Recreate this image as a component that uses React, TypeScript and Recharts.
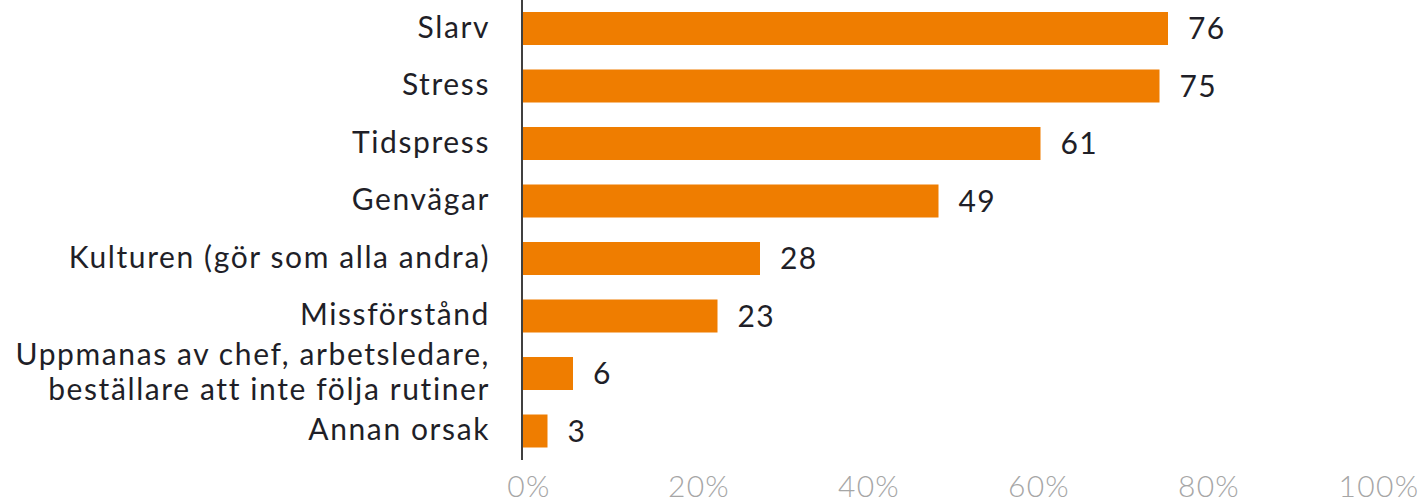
import React from "react";
import { BarChart, Bar, XAxis, YAxis, LabelList } from "recharts";

const categories = [
  "Slarv",
  "Stress",
  "Tidspress",
  "Genvägar",
  "Kulturen (gör som alla andra)",
  "Missförstånd",
  "Uppmanas av chef, arbetsledare,\nbeställare att inte följa rutiner",
  "Annan orsak",
];
const values = [76, 75, 61, 49, 28, 23, 6, 3];
const xTicks = [0, 20, 40, 60, 80, 100];

const data = categories.map((name, i) => ({ name, value: values[i] }));

const FONT = "Lato, 'Noto Sans', sans-serif";
const FS = 30;
const LS = 1.6;

const CategoryTick = (props: any) => {
  const { x, y, payload } = props;
  const lines: string[] = String(payload.value).split("\n");
  const lh = 35;
  return (
    <text
      x={x}
      y={y}
      textAnchor="end"
      fill="#1f1f28"
      fontSize={FS}
      fontFamily={FONT}
      letterSpacing={LS}
    >
      {lines.map((l, i) => (
        <tspan key={i} x={x} dy={i === 0 ? 0.36 * FS - ((lines.length - 1) * lh) / 2 - 2 : lh}>
          {l}
        </tspan>
      ))}
    </text>
  );
};

export default function App() {
  return (
    <div style={{ position: "absolute", left: 0, top: 0 }}>
      <BarChart
        width={1421}
        height={503}
        data={data}
        layout="vertical"
        margin={{ top: 0, right: 49, bottom: 0, left: 0 }}
      >
        <XAxis
          type="number"
          domain={[0, 100]}
          ticks={xTicks}
          tickFormatter={(v: number) => `${v}%`}
          axisLine={false}
          tickLine={false}
          tickSize={0}
          tickMargin={16}
          height={43}
          tick={{
            fill: "#a6a6a6",
            fontSize: FS,
            fontFamily: FONT,
            fontWeight: 300,
            dx: 7,
            letterSpacing: 1.3,
          }}
        />
        <YAxis
          type="category"
          dataKey="name"
          width={522}
          interval={0}
          tickLine={false}
          tickSize={0}
          tickMargin={32}
          axisLine={{ stroke: "#404040", strokeWidth: 2 }}
          tick={<CategoryTick />}
        />
        <Bar dataKey="value" fill="#EF7D00" barSize={33} isAnimationActive={false}>
          <LabelList
            dataKey="value"
            position="right"
            offset={20}
            fill="#1f1f28"
            fontSize={FS}
            fontFamily={FONT}
            letterSpacing={1.3}
          />
        </Bar>
      </BarChart>
    </div>
  );
}
